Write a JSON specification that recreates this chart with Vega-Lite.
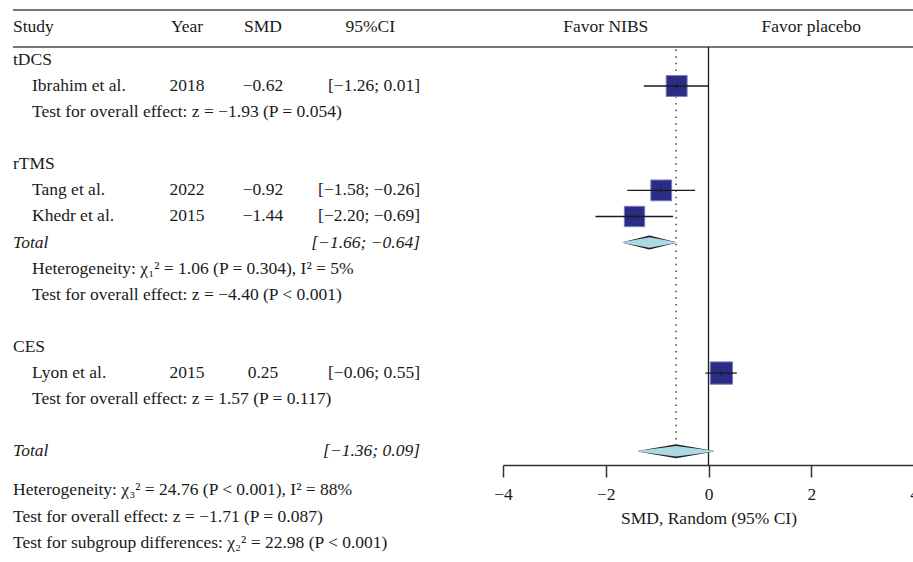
{
  "$schema": "https://vega.github.io/schema/vega-lite/v6.json",
  "width": 913,
  "height": 562,
  "autosize": {"type": "none"},
  "padding": 0,
  "background": "white",
  "config": {
    "view": {"stroke": null},
    "font": "Liberation Serif",
    "text": {"font": "Liberation Serif", "fontSize": 17.5, "color": "#1a1a1a", "baseline": "middle"},
    "axis": {
      "grid": false,
      "domainColor": "#333333",
      "domainWidth": 1.5,
      "tickColor": "#333333",
      "tickWidth": 1.5,
      "labelFont": "Liberation Serif",
      "labelFontSize": 17.5,
      "labelColor": "#1a1a1a",
      "titleFont": "Liberation Serif",
      "titleFontSize": 17.5,
      "titleFontWeight": "normal",
      "titleColor": "#1a1a1a"
    }
  },
  "datasets": {
    "header": [
      {"col": 0, "label": "Study"},
      {"col": 2, "label": "Year"},
      {"col": 3, "label": "SMD"},
      {"col": 4, "label": "95%CI"}
    ],
    "table": [
      {"row": 0, "col": 0, "label": "tDCS", "kind": "group"},
      {"row": 1, "col": 1, "label": "Ibrahim et al.", "kind": "study"},
      {"row": 1, "col": 2, "label": "2018", "kind": "study"},
      {"row": 1, "col": 3, "label": "−0.62", "kind": "study"},
      {"row": 1, "col": 4, "label": "[−1.26; 0.01]", "kind": "study"},
      {"row": 2, "col": 1, "label": "Test for overall effect: z = −1.93 (P = 0.054)", "kind": "note"},
      {"row": 4, "col": 0, "label": "rTMS", "kind": "group"},
      {"row": 5, "col": 1, "label": "Tang et al.", "kind": "study"},
      {"row": 5, "col": 2, "label": "2022", "kind": "study"},
      {"row": 5, "col": 3, "label": "−0.92", "kind": "study"},
      {"row": 5, "col": 4, "label": "[−1.58; −0.26]", "kind": "study"},
      {"row": 6, "col": 1, "label": "Khedr et al.", "kind": "study"},
      {"row": 6, "col": 2, "label": "2015", "kind": "study"},
      {"row": 6, "col": 3, "label": "−1.44", "kind": "study"},
      {"row": 6, "col": 4, "label": "[−2.20; −0.69]", "kind": "study"},
      {"row": 7, "col": 0, "label": "Total", "kind": "total"},
      {"row": 7, "col": 4, "label": "[−1.66; −0.64]", "kind": "total"},
      {"row": 8, "col": 1, "label": "Heterogeneity: χ₁² = 1.06 (P = 0.304), I² = 5%", "kind": "note"},
      {"row": 9, "col": 1, "label": "Test for overall effect: z = −4.40 (P < 0.001)", "kind": "note"},
      {"row": 11, "col": 0, "label": "CES", "kind": "group"},
      {"row": 12, "col": 1, "label": "Lyon et al.", "kind": "study"},
      {"row": 12, "col": 2, "label": "2015", "kind": "study"},
      {"row": 12, "col": 3, "label": "0.25", "kind": "study"},
      {"row": 12, "col": 4, "label": "[−0.06; 0.55]", "kind": "study"},
      {"row": 13, "col": 1, "label": "Test for overall effect: z = 1.57 (P = 0.117)", "kind": "note"},
      {"row": 15, "col": 0, "label": "Total", "kind": "total"},
      {"row": 15, "col": 4, "label": "[−1.36; 0.09]", "kind": "total"},
      {"row": 16.5, "col": 0, "label": "Heterogeneity: χ₃² = 24.76 (P < 0.001), I² = 88%", "kind": "note"},
      {"row": 17.5, "col": 0, "label": "Test for overall effect: z = −1.71 (P = 0.087)", "kind": "note"},
      {"row": 18.5, "col": 0, "label": "Test for subgroup differences: χ₂² = 22.98 (P < 0.001)", "kind": "note"}
    ],
    "studies": [
      {"study": "Ibrahim et al.", "row": 1, "smd": -0.62, "lo": -1.26, "hi": 0.01, "weight": 24.6},
      {"study": "Tang et al.", "row": 5, "smd": -0.92, "lo": -1.58, "hi": -0.26, "weight": 24.3},
      {"study": "Khedr et al.", "row": 6, "smd": -1.44, "lo": -2.20, "hi": -0.69, "weight": 23.2},
      {"study": "Lyon et al.", "row": 12, "smd": 0.25, "lo": -0.06, "hi": 0.55, "weight": 27.9}
    ],
    "pooled": [
      {"analysis": "rTMS", "row": 7, "part": "lower", "smd": -1.66},
      {"analysis": "rTMS", "row": 7, "part": "estimate", "smd": -1.15},
      {"analysis": "rTMS", "row": 7, "part": "upper", "smd": -0.64},
      {"analysis": "Overall", "row": 15, "part": "lower", "smd": -1.36},
      {"analysis": "Overall", "row": 15, "part": "estimate", "smd": -0.63},
      {"analysis": "Overall", "row": 15, "part": "upper", "smd": 0.09}
    ]
  },
  "layer": [
    {
      "layer": [
        {
          "data": {"values": [{}]},
          "mark": {"type": "rule", "color": "#4a4a4a", "strokeWidth": 1.6},
          "encoding": {
            "x": {"datum": 0, "type": "quantitative", "scale": {"domain": [0, 1, 2, 3, 4, 5], "range": [13, 32, 187, 263, 420, 913], "nice": false, "zero": false}, "axis": null},
            "x2": {"datum": 5},
            "y": {"datum": -1.91, "type": "quantitative", "scale": {"domain": [-2.295, 19.24], "reverse": true, "nice": false, "zero": false}, "axis": null}
          }
        },
        {
          "data": {"values": [{}]},
          "mark": {"type": "rule", "color": "#4a4a4a", "strokeWidth": 1.6},
          "encoding": {
            "x": {"datum": 0, "type": "quantitative", "scale": {"domain": [0, 1, 2, 3, 4, 5], "range": [13, 32, 187, 263, 420, 913], "nice": false, "zero": false}, "axis": null},
            "x2": {"datum": 5},
            "y": {"datum": -0.494, "type": "quantitative", "scale": {"domain": [-2.295, 19.24], "reverse": true, "nice": false, "zero": false}, "axis": null}
          }
        },
        {
          "data": {"name": "header"},
          "transform": [{"filter": "datum.col === 0"}],
          "mark": {"type": "text", "align": "left"},
          "encoding": {
            "x": {"field": "col", "type": "quantitative", "scale": {"domain": [0, 1, 2, 3, 4, 5], "range": [13, 32, 187, 263, 420, 913], "nice": false, "zero": false}, "axis": null},
            "y": {"datum": -1.25, "type": "quantitative", "scale": {"domain": [-2.295, 19.24], "reverse": true, "nice": false, "zero": false}, "axis": null},
            "text": {"field": "label"}
          }
        },
        {
          "data": {"name": "header"},
          "transform": [{"filter": "datum.col === 2 || datum.col === 3"}],
          "mark": {"type": "text", "align": "center"},
          "encoding": {
            "x": {"field": "col", "type": "quantitative", "scale": {"domain": [0, 1, 2, 3, 4, 5], "range": [13, 32, 187, 263, 420, 913], "nice": false, "zero": false}, "axis": null},
            "y": {"datum": -1.25, "type": "quantitative", "scale": {"domain": [-2.295, 19.24], "reverse": true, "nice": false, "zero": false}, "axis": null},
            "text": {"field": "label"}
          }
        },
        {
          "data": {"name": "header"},
          "transform": [{"filter": "datum.col === 4"}],
          "mark": {"type": "text", "align": "right", "dx": -25},
          "encoding": {
            "x": {"field": "col", "type": "quantitative", "scale": {"domain": [0, 1, 2, 3, 4, 5], "range": [13, 32, 187, 263, 420, 913], "nice": false, "zero": false}, "axis": null},
            "y": {"datum": -1.25, "type": "quantitative", "scale": {"domain": [-2.295, 19.24], "reverse": true, "nice": false, "zero": false}, "axis": null},
            "text": {"field": "label"}
          }
        },
        {
          "data": {"name": "table"},
          "transform": [{"filter": "datum.col <= 1 && datum.kind !== 'total'"}],
          "mark": {"type": "text", "align": "left"},
          "encoding": {
            "x": {"field": "col", "type": "quantitative", "scale": {"domain": [0, 1, 2, 3, 4, 5], "range": [13, 32, 187, 263, 420, 913], "nice": false, "zero": false}, "axis": null},
            "y": {"field": "row", "type": "quantitative", "scale": {"domain": [-2.295, 19.24], "reverse": true, "nice": false, "zero": false}, "axis": null},
            "text": {"field": "label"}
          }
        },
        {
          "data": {"name": "table"},
          "transform": [{"filter": "datum.col <= 1 && datum.kind === 'total'"}],
          "mark": {"type": "text", "align": "left", "fontStyle": "italic"},
          "encoding": {
            "x": {"field": "col", "type": "quantitative", "scale": {"domain": [0, 1, 2, 3, 4, 5], "range": [13, 32, 187, 263, 420, 913], "nice": false, "zero": false}, "axis": null},
            "y": {"field": "row", "type": "quantitative", "scale": {"domain": [-2.295, 19.24], "reverse": true, "nice": false, "zero": false}, "axis": null},
            "text": {"field": "label"}
          }
        },
        {
          "data": {"name": "table"},
          "transform": [{"filter": "datum.col === 2 || datum.col === 3"}],
          "mark": {"type": "text", "align": "center"},
          "encoding": {
            "x": {"field": "col", "type": "quantitative", "scale": {"domain": [0, 1, 2, 3, 4, 5], "range": [13, 32, 187, 263, 420, 913], "nice": false, "zero": false}, "axis": null},
            "y": {"field": "row", "type": "quantitative", "scale": {"domain": [-2.295, 19.24], "reverse": true, "nice": false, "zero": false}, "axis": null},
            "text": {"field": "label"}
          }
        },
        {
          "data": {"name": "table"},
          "transform": [{"filter": "datum.col === 4 && datum.kind !== 'total'"}],
          "mark": {"type": "text", "align": "right"},
          "encoding": {
            "x": {"field": "col", "type": "quantitative", "scale": {"domain": [0, 1, 2, 3, 4, 5], "range": [13, 32, 187, 263, 420, 913], "nice": false, "zero": false}, "axis": null},
            "y": {"field": "row", "type": "quantitative", "scale": {"domain": [-2.295, 19.24], "reverse": true, "nice": false, "zero": false}, "axis": null},
            "text": {"field": "label"}
          }
        },
        {
          "data": {"name": "table"},
          "transform": [{"filter": "datum.col === 4 && datum.kind === 'total'"}],
          "mark": {"type": "text", "align": "right", "fontStyle": "italic"},
          "encoding": {
            "x": {"field": "col", "type": "quantitative", "scale": {"domain": [0, 1, 2, 3, 4, 5], "range": [13, 32, 187, 263, 420, 913], "nice": false, "zero": false}, "axis": null},
            "y": {"field": "row", "type": "quantitative", "scale": {"domain": [-2.295, 19.24], "reverse": true, "nice": false, "zero": false}, "axis": null},
            "text": {"field": "label"}
          }
        }
      ]
    },
    {
      "layer": [
        {
          "data": {"values": [{}]},
          "mark": {"type": "rule", "color": "#1a1a1a", "strokeWidth": 1.3},
          "encoding": {
            "x": {"datum": 0, "type": "quantitative", "scale": {"domain": [-4, 4], "range": [503, 914], "nice": false, "zero": false}, "axis": {"title": "SMD, Random (95% CI)", "values": [-4, -2, 0, 2, 4], "offset": -97, "tickSize": 12, "labelPadding": 8, "titlePadding": 7, "labelFlush": false, "labelOverlap": false}},
            "y": {"datum": -0.494, "type": "quantitative", "scale": {"domain": [-2.295, 19.24], "reverse": true, "nice": false, "zero": false}, "axis": null},
            "y2": {"datum": 15.52}
          }
        },
        {
          "data": {"name": "pooled"},
          "transform": [{"filter": "datum.analysis === 'Overall' && datum.part === 'estimate'"}],
          "mark": {"type": "rule", "color": "#444444", "strokeWidth": 1.5, "strokeDash": [1.5, 5.2]},
          "encoding": {
            "x": {"field": "smd", "type": "quantitative", "scale": {"domain": [-4, 4], "range": [503, 914], "nice": false, "zero": false}, "axis": {"title": "SMD, Random (95% CI)", "values": [-4, -2, 0, 2, 4], "offset": -97, "tickSize": 12, "labelPadding": 8, "titlePadding": 7, "labelFlush": false, "labelOverlap": false}},
            "y": {"datum": -0.4, "type": "quantitative", "scale": {"domain": [-2.295, 19.24], "reverse": true, "nice": false, "zero": false}, "axis": null},
            "y2": {"datum": 14.75}
          }
        },
        {
          "data": {"name": "studies"},
          "mark": {"type": "square", "fill": "#2b2c85", "stroke": "#7b7bb8", "strokeWidth": 1, "opacity": 1},
          "encoding": {
            "x": {"field": "smd", "type": "quantitative", "scale": {"domain": [-4, 4], "range": [503, 914], "nice": false, "zero": false}, "axis": {"title": "SMD, Random (95% CI)", "values": [-4, -2, 0, 2, 4], "offset": -97, "tickSize": 12, "labelPadding": 8, "titlePadding": 7, "labelFlush": false, "labelOverlap": false}},
            "y": {"field": "row", "type": "quantitative", "scale": {"domain": [-2.295, 19.24], "reverse": true, "nice": false, "zero": false}, "axis": null},
            "size": {"field": "weight", "type": "quantitative", "scale": {"domain": [0, 30], "range": [0, 534]}, "legend": null}
          }
        },
        {
          "data": {"name": "studies"},
          "mark": {"type": "rule", "color": "#1a1a1a", "strokeWidth": 1.3},
          "encoding": {
            "x": {"field": "lo", "type": "quantitative", "scale": {"domain": [-4, 4], "range": [503, 914], "nice": false, "zero": false}, "axis": {"title": "SMD, Random (95% CI)", "values": [-4, -2, 0, 2, 4], "offset": -97, "tickSize": 12, "labelPadding": 8, "titlePadding": 7, "labelFlush": false, "labelOverlap": false}},
            "x2": {"field": "hi"},
            "y": {"field": "row", "type": "quantitative", "scale": {"domain": [-2.295, 19.24], "reverse": true, "nice": false, "zero": false}, "axis": null}
          }
        },
        {
          "data": {"name": "studies"},
          "mark": {"type": "tick", "orient": "vertical", "size": 5, "thickness": 1, "color": "#1a1a1a", "opacity": 1},
          "encoding": {
            "x": {"field": "smd", "type": "quantitative", "scale": {"domain": [-4, 4], "range": [503, 914], "nice": false, "zero": false}, "axis": {"title": "SMD, Random (95% CI)", "values": [-4, -2, 0, 2, 4], "offset": -97, "tickSize": 12, "labelPadding": 8, "titlePadding": 7, "labelFlush": false, "labelOverlap": false}},
            "y": {"field": "row", "type": "quantitative", "scale": {"domain": [-2.295, 19.24], "reverse": true, "nice": false, "zero": false}, "axis": null}
          }
        },
        {
          "data": {"name": "pooled"},
          "mark": {"type": "trail", "color": "#222222", "opacity": 1},
          "encoding": {
            "x": {"field": "smd", "type": "quantitative", "scale": {"domain": [-4, 4], "range": [503, 914], "nice": false, "zero": false}, "axis": {"title": "SMD, Random (95% CI)", "values": [-4, -2, 0, 2, 4], "offset": -97, "tickSize": 12, "labelPadding": 8, "titlePadding": 7, "labelFlush": false, "labelOverlap": false}},
            "y": {"field": "row", "type": "quantitative", "scale": {"domain": [-2.295, 19.24], "reverse": true, "nice": false, "zero": false}, "axis": null},
            "detail": {"field": "analysis"},
            "size": {"condition": {"test": "datum.part === 'estimate'", "value": 14}, "value": 0}
          }
        },
        {
          "data": {"name": "pooled"},
          "mark": {"type": "trail", "color": "#add8e6", "opacity": 1},
          "encoding": {
            "x": {"field": "smd", "type": "quantitative", "scale": {"domain": [-4, 4], "range": [503, 914], "nice": false, "zero": false}, "axis": {"title": "SMD, Random (95% CI)", "values": [-4, -2, 0, 2, 4], "offset": -97, "tickSize": 12, "labelPadding": 8, "titlePadding": 7, "labelFlush": false, "labelOverlap": false}},
            "y": {"field": "row", "type": "quantitative", "scale": {"domain": [-2.295, 19.24], "reverse": true, "nice": false, "zero": false}, "axis": null},
            "detail": {"field": "analysis"},
            "size": {"condition": {"test": "datum.part === 'estimate'", "value": 10.5}, "value": 0}
          }
        },
        {
          "data": {"values": [{}]},
          "mark": {"type": "text", "align": "center"},
          "encoding": {
            "x": {"datum": -2, "type": "quantitative", "scale": {"domain": [-4, 4], "range": [503, 914], "nice": false, "zero": false}, "axis": {"title": "SMD, Random (95% CI)", "values": [-4, -2, 0, 2, 4], "offset": -97, "tickSize": 12, "labelPadding": 8, "titlePadding": 7, "labelFlush": false, "labelOverlap": false}},
            "y": {"datum": -1.25, "type": "quantitative", "scale": {"domain": [-2.295, 19.24], "reverse": true, "nice": false, "zero": false}, "axis": null},
            "text": {"value": "Favor NIBS"}
          }
        },
        {
          "data": {"values": [{}]},
          "mark": {"type": "text", "align": "center"},
          "encoding": {
            "x": {"datum": 2, "type": "quantitative", "scale": {"domain": [-4, 4], "range": [503, 914], "nice": false, "zero": false}, "axis": {"title": "SMD, Random (95% CI)", "values": [-4, -2, 0, 2, 4], "offset": -97, "tickSize": 12, "labelPadding": 8, "titlePadding": 7, "labelFlush": false, "labelOverlap": false}},
            "y": {"datum": -1.25, "type": "quantitative", "scale": {"domain": [-2.295, 19.24], "reverse": true, "nice": false, "zero": false}, "axis": null},
            "text": {"value": "Favor placebo"}
          }
        }
      ]
    }
  ],
  "resolve": {"scale": {"x": "independent"}}
}
